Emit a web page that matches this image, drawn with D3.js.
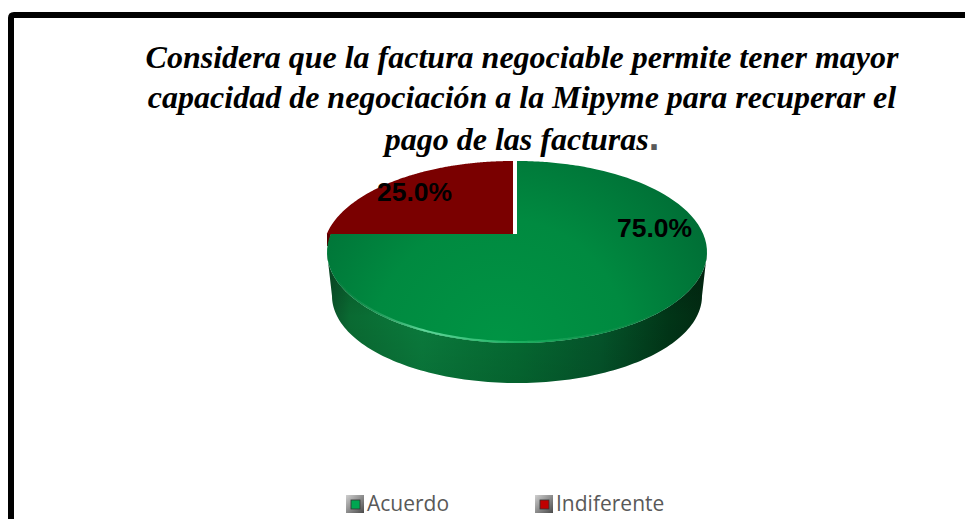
<!DOCTYPE html>
<html>
<head>
<meta charset="utf-8">
<script src="https://cdn.jsdelivr.net/npm/d3@7"></script>
<style>
  html, body { margin: 0; padding: 0; background: #fff; overflow: hidden; }
  svg { display: block; }
</style>
</head>
<body>
<div id="chart"></div>
<script>
//Datos
const categorias = ['Indiferente', 'Acuerdo'];
const valores = [25, 75];
const etiquetas = ['25.0%', '75.0%'];
const titulo = [
    'Considera que la factura negociable permite tener mayor',
    'capacidad de negociación a la Mipyme para recuperar el',
    'pago de las facturas'
];

//Colores fijos
const COLOR_ROJO = '#7a0000', COLOR_LEYENDA = '#595959';

const width = 965, height = 519;

const svg = d3.select('#chart').append('svg')
    .attr('width', width)
    .attr('height', height);

const defs = svg.append('defs');

//Cara superior
let caraVerde = defs.append('radialGradient')
    .attr('id', 'caraVerde')
    .attr('gradientUnits', 'userSpaceOnUse')
    .attr('cx', 500).attr('cy', 345).attr('r', 230);
caraVerde.append('stop').attr('offset', '0%').attr('stop-color', '#009444');
caraVerde.append('stop').attr('offset', '55%').attr('stop-color', '#008a40');
caraVerde.append('stop').attr('offset', '100%').attr('stop-color', '#006f36');

//Lateral
let lateral = defs.append('linearGradient')
    .attr('id', 'lateral')
    .attr('gradientUnits', 'userSpaceOnUse')
    .attr('x1', 327).attr('x2', 707).attr('y1', 0).attr('y2', 0);
[[0, '#0a4f28'], [0.06, '#0a6a32'], [0.25, '#0a7a3c'], [0.5, '#056a32'], [0.72, '#04542a'], [0.9, '#013517'], [1, '#022a12']]
    .forEach(function(d) { lateral.append('stop').attr('offset', d[0]).attr('stop-color', d[1]); });

//Sombra vertical del lateral
let sombra = defs.append('linearGradient')
    .attr('id', 'sombra')
    .attr('gradientUnits', 'userSpaceOnUse')
    .attr('x1', 0).attr('x2', 0).attr('y1', 250).attr('y2', 383);
sombra.append('stop').attr('offset', '0%').attr('stop-color', '#000').attr('stop-opacity', 0.25);
sombra.append('stop').attr('offset', '50%').attr('stop-color', '#000').attr('stop-opacity', 0);
sombra.append('stop').attr('offset', '100%').attr('stop-color', '#000').attr('stop-opacity', 0.08);

let brillo = defs.append('linearGradient')
    .attr('id', 'brillo')
    .attr('gradientUnits', 'userSpaceOnUse')
    .attr('x1', 330).attr('x2', 707).attr('y1', 0).attr('y2', 0);
[[0, '#0a7a3c', 0.2], [0.25, '#5fd79a', 1], [0.5, '#1cb060', 1], [0.8, '#0f8a48', 0.6], [1, '#0a6a32', 0.2]]
    .forEach(function(d) { brillo.append('stop').attr('offset', d[0]).attr('stop-color', d[1]).attr('stop-opacity', d[2]); });

defs.append('filter').attr('id', 'suave')
    .append('feGaussianBlur').attr('stdDeviation', 0.7);

//Relieve de los cuadros de la leyenda
let relieve = defs.append('linearGradient')
    .attr('id', 'relieve')
    .attr('x1', 0).attr('y1', 0).attr('x2', 1).attr('y2', 1);
relieve.append('stop').attr('offset', '0%').attr('stop-color', '#d0d0d0');
relieve.append('stop').attr('offset', '100%').attr('stop-color', '#4a4a4a');

//Marco
svg.append('path')
    .attr('d', 'M11,' + (height + 10) + ' L11,18 Q11,15 14,15 L' + (width + 10) + ',15')
    .attr('fill', 'none')
    .attr('stroke', '#000')
    .attr('stroke-width', 6);

//Título
let tituloG = svg.append('g')
    .attr('font-family', '"Liberation Serif", serif')
    .attr('font-weight', 700)
    .attr('font-style', 'italic')
    .attr('font-size', 32)
    .attr('fill', '#000')
    .attr('text-anchor', 'middle');

tituloG.selectAll('text')
    .data(titulo)
    .enter()
    .append('text')
    .attr('x', 522)
    .attr('y', function(d, i) { return [68, 108, 150][i]; })
    .text(function(d) { return d; });

//Punto final del título, más grande y gris
tituloG.select('text:last-child')
    .append('tspan')
    .attr('font-family', '"Liberation Sans", sans-serif')
    .attr('font-style', 'normal')
    .attr('font-size', 38)
    .attr('fill', '#595959')
    .text('.');

//Geometría de la tarta en perspectiva
const elipse = {cx: 517, cy: 252, rx: 190, ry: 91};
const base = {cx: 517, cy: 296, rx: 185, ry: 87};
const vertice = {x: 517, y: 234};

//Punto del borde de la elipse en la dirección de un ángulo de la tarta
function borde(angulo) {
    let dx = Math.sin(angulo), dy = -Math.cos(angulo);
    let ox = (vertice.x - elipse.cx) / elipse.rx, oy = (vertice.y - elipse.cy) / elipse.ry;
    let ax = dx / elipse.rx, ay = dy / elipse.ry;
    let a = ax * ax + ay * ay, b = 2 * (ox * ax + oy * ay), c = ox * ox + oy * oy - 1;
    let t = (-b + Math.sqrt(b * b - 4 * a * c)) / (2 * a);
    return [vertice.x + dx * t, vertice.y + dy * t];
}

function elipsePuntos(e, desde, hasta) {
    return d3.range(0, 121).map(function(i) {
        let t = desde + (hasta - desde) * i / 120;
        return [e.cx + e.rx * Math.cos(t), e.cy + e.ry * Math.sin(t)];
    });
}

const linea = d3.line();

const pie = d3.pie().sort(null).startAngle(-Math.PI / 2).endAngle(Math.PI * 1.5);
const arcos = pie(valores);

let tarta = svg.append('g');

//Lateral del sector verde
let contorno = linea(elipsePuntos(elipse, 0, Math.PI).concat(elipsePuntos(base, Math.PI, 0))) + 'Z';
tarta.append('path').attr('d', contorno).attr('fill', 'url(#lateral)');
tarta.append('path').attr('d', contorno).attr('fill', 'url(#sombra)');

//Pequeño lateral rojo a la izquierda
tarta.append('path')
    .attr('d', linea([[327, 234], [331, 234], [328, 246], [327, 246]]) + 'Z')
    .attr('fill', '#5a0000');

//Caras superiores
tarta.selectAll('path.cara')
    .data(arcos)
    .enter()
    .append('path')
    .attr('class', 'cara')
    .attr('d', function(d) {
        let puntos = d3.range(0, 181).map(function(i) {
            return borde(d.startAngle + (d.endAngle - d.startAngle) * i / 180);
        });
        return linea([[vertice.x, vertice.y]].concat(puntos)) + 'Z';
    })
    .attr('fill', function(d, i) { return i === 0 ? COLOR_ROJO : 'url(#caraVerde)'; })
    .attr('transform', function(d, i) { return i === 0 ? 'translate(-4,0)' : 'translate(0,0)'; });

//Brillo del canto
tarta.append('path')
    .attr('d', linea(elipsePuntos({cx: elipse.cx, cy: elipse.cy, rx: elipse.rx - 1, ry: elipse.ry - 1}, 0.12, Math.PI - 0.1)))
    .attr('fill', 'none')
    .attr('stroke', 'url(#brillo)')
    .attr('stroke-width', 2)
    .attr('filter', 'url(#suave)');

//Etiquetas
svg.append('g')
    .selectAll('text')
    .data(etiquetas)
    .enter()
    .append('text')
    .attr('x', function(d, i) { return [414.5, 654.5][i]; })
    .attr('y', function(d, i) { return [201, 237][i]; })
    .attr('text-anchor', 'middle')
    .attr('font-family', '"Liberation Sans", sans-serif')
    .attr('font-weight', 700)
    .attr('font-size', 26.5)
    .attr('fill', '#000')
    .text(function(d) { return d; });

//Leyenda
const ordenLeyenda = ['Acuerdo', 'Indiferente'];
const colorLeyenda = d3.scaleOrdinal().domain(ordenLeyenda).range(['#00a651', '#c00000']);
const xLeyenda = d3.scaleOrdinal().domain(ordenLeyenda).range([346, 535]);

let leyenda = svg.append('g').selectAll('g')
    .data(ordenLeyenda)
    .enter()
    .append('g')
    .attr('transform', function(d) { return 'translate(' + xLeyenda(d) + ',495)'; });

leyenda.append('rect')
    .attr('width', 18).attr('height', 18)
    .attr('fill', 'url(#relieve)');

leyenda.append('rect')
    .attr('x', 5).attr('y', 5).attr('width', 9).attr('height', 9)
    .attr('fill', function(d) { return colorLeyenda(d); })
    .attr('stroke', '#333')
    .attr('stroke-width', 0.8);

leyenda.append('text')
    .attr('x', 21)
    .attr('y', 16)
    .attr('font-family', '"Open Sans", sans-serif')
    .attr('font-size', 21)
    .attr('fill', COLOR_LEYENDA)
    .text(function(d) { return d; });
</script>
</body>
</html>
